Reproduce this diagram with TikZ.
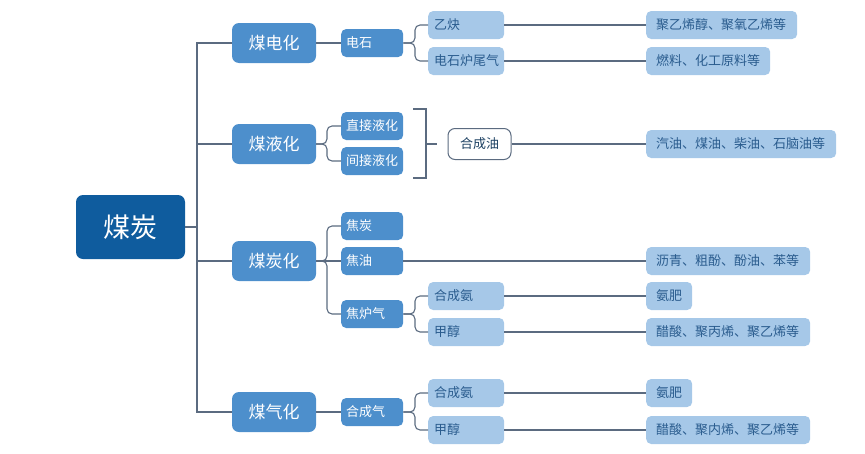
\documentclass[tikz,border=0pt]{standalone}
\usepackage{fontspec}
\setmainfont{Noto Sans CJK SC}
\definecolor{rootc}{HTML}{0F5C9E}
\definecolor{midc}{HTML}{4D8FCC}
\definecolor{lightc}{HTML}{A6C8E8}
\definecolor{darktxt}{HTML}{2A5C8E}
\definecolor{linec}{HTML}{5B6B80}
\begin{document}
\begin{tikzpicture}[x=1pt,y=-1pt,
  base/.style={rounded corners=5pt, inner ysep=0pt, minimum height=28pt, anchor=west, align=left, font=\fontsize{13}{13}\selectfont},
  rootbox/.style={fill=rootc, text=white, rounded corners=7pt, minimum width=109pt, minimum height=64pt, font=\fontsize{27}{27}\selectfont},
  l1box/.style={fill=midc, text=white, rounded corners=7pt, minimum width=84pt, minimum height=40pt, font=\fontsize{17}{17}\selectfont},
  l2box/.style={base, fill=midc, text=white, inner xsep=5pt, text width=52pt},
  l3box/.style={base, fill=lightc, text=darktxt, inner xsep=6pt, text width=64pt},
  l4box/.style={base, fill=lightc, text=darktxt, inner xsep=10pt},
  conn/.style={draw=linec, line width=1.1pt},
  fork/.style={conn, rounded corners=5pt}]
\useasboundingbox (0,0) rectangle (865,453);
% root
\node[rootbox] (root) at (130.5,227) {煤炭};
% level 1
\node[l1box] (mdh) at (274,43) {煤电化};
\node[l1box] (myh) at (274,144) {煤液化};
\node[l1box] (mth) at (274,261) {煤炭化};
\node[l1box] (mqh) at (274,412) {煤气化};
% level 2
\node[l2box] (ds) at (341,43) {电石};
\node[l2box] (zj) at (341,126) {直接液化};
\node[l2box] (jj) at (341,161) {间接液化};
\node[l2box] (jt) at (341,226) {焦炭};
\node[l2box] (jy) at (341,261) {焦油};
\node[l2box] (jlq) at (341,314) {焦炉气};
\node[l2box] (hcq) at (341,412) {合成气};
% level 3
\node[l3box] (yq) at (428,25) {乙炔};
\node[l3box] (dswq) at (428,61) {电石炉尾气};
\node[l3box] (hca1) at (428,296) {合成氨};
\node[l3box] (jc1) at (428,332) {甲醇};
\node[l3box] (hca2) at (428,393) {合成氨};
\node[l3box] (jc2) at (428,430) {甲醇};
\node[draw=linec, line width=1pt, fill=white, text=darktxt!70!black, rounded corners=7pt, minimum width=63pt, minimum height=31pt, font=\fontsize{13}{13}\selectfont] (hcy) at (479.5,144) {合成油};
% level 4
\node[l4box, text width=131pt] (p1) at (646,25) {聚乙烯醇、聚氧乙烯等};
\node[l4box, text width=104pt] (p2) at (646,61) {燃料、化工原料等};
\node[l4box, text width=170pt] (p3) at (646,144) {汽油、煤油、柴油、石脑油等};
\node[l4box, text width=144pt] (p4) at (646,261) {沥青、粗酚、酚油、苯等};
\node[l4box, text width=26pt] (p5) at (646,296) {氨肥};
\node[l4box, text width=144pt] (p6) at (646,332) {醋酸、聚丙烯、聚乙烯等};
\node[l4box, text width=26pt] (p7) at (646,393) {氨肥};
\node[l4box, text width=144pt] (p8) at (646,430) {醋酸、聚内烯、聚乙烯等};
% trunk
\coordinate (tr) at (197,227);
\draw[conn] (root.east) -- (tr);
\draw[conn] (tr) |- (mdh.west);
\draw[conn] (tr) |- (mqh.west);
\draw[conn] (tr) |- (myh.west);
\draw[conn] (tr) |- (mth.west);
% level1 -> level2
\draw[conn] (mdh.east) -- (ds.west);
\draw[conn] (mqh.east) -- (hcq.west);
\draw[fork] (myh.east) -- (327,144) |- (zj.west);
\draw[fork] (myh.east) -- (327,144) |- (jj.west);
\draw[fork] (mth.east) -- (327,261) |- (jt.west);
\draw[fork] (mth.east) -- (327,261) |- (jlq.west);
\draw[conn] (mth.east) -- (jy.west);
% level2 -> level3
\draw[fork] (ds.east) -- (415,43) |- (yq.west);
\draw[fork] (ds.east) -- (415,43) |- (dswq.west);
\draw[fork] (jlq.east) -- (415,314) |- (hca1.west);
\draw[fork] (jlq.east) -- (415,314) |- (jc1.west);
\draw[fork] (hcq.east) -- (415,412) |- (hca2.west);
\draw[fork] (hcq.east) -- (415,412) |- (jc2.west);
% bracket
\coordinate (bt) at (413,109);
\coordinate (bb) at (413,178);
\coordinate (bm) at (437,144);
\draw[conn] (bt) -- (426,109) -- (426,178) -- (bb);
\draw[conn] (426,144) -- (bm);
% to level 4
\draw[conn] (yq.east) -- (p1.west);
\draw[conn] (dswq.east) -- (p2.west);
\draw[conn] (hcy.east) -- (p3.west);
\draw[conn] (jy.east) -- (p4.west);
\draw[conn] (hca1.east) -- (p5.west);
\draw[conn] (jc1.east) -- (p6.west);
\draw[conn] (hca2.east) -- (p7.west);
\draw[conn] (jc2.east) -- (p8.west);
\end{tikzpicture}
\end{document}
